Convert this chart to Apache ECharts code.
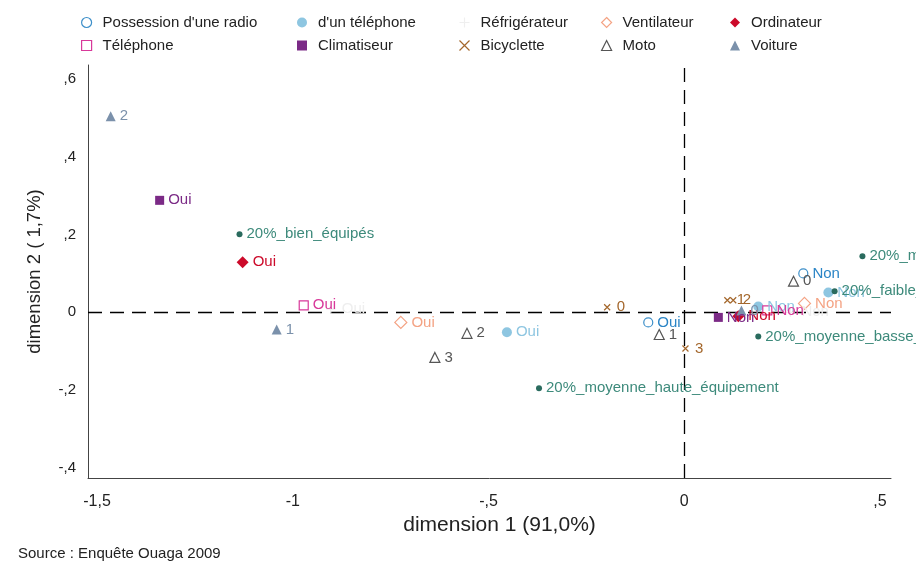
<!DOCTYPE html>
<html>
<head>
<meta charset="utf-8">
<script src="https://cdn.jsdelivr.net/npm/echarts@6/dist/echarts.min.js"></script>
<style>
  html, body { margin: 0; padding: 0; background: #fff; }
  #main { width: 916px; height: 562px; }
</style>
</head>
<body>
<div id="main"></div>
<script>
// données (ACM, dimensions 1 et 2)
var radioX = [-0.092, 0.304];
var radioY = [-0.026, 0.100];
var radioLab = ['Oui', 'Non'];

var telX = [-0.453, 0.189, 0.368];
var telY = [-0.051, 0.015, 0.051];
var telLab = ['Oui', 'Non', 'Non'];

var frigoX = [-0.903, 0.271];
var frigoY = [0.008, 0.0];
var frigoLab = ['Oui', 'Non'];

var ventiX = [-0.724, 0.307];
var ventiY = [-0.026, 0.023];
var ventiLab = ['Oui', 'Non'];

var ordiX = [-1.128, 0.138];
var ordiY = [0.129, -0.010];
var ordiLab = ['Oui', 'Non'];

var telephoneX = [-0.972, 0.212];
var telephoneY = [0.018, 0.005];
var telephoneLab = ['Oui', 'Non'];

var climX = [-1.340, 0.087];
var climY = [0.288, -0.013];
var climLab = ['Oui', 'Non'];

var veloX = [-0.197, 0.110, 0.125, 0.003];
var veloY = [0.013, 0.031, 0.031, -0.093];
var veloLab = ['0', '1', '2', '3'];

var motoX = [0.279, -0.064, -0.555, -0.637];
var motoY = [0.080, -0.057, -0.054, -0.116];
var motoLab = ['0', '1', '2', '3'];

var voitX = [0.146, -1.041, -1.465];
var voitY = [0.005, -0.044, 0.504];
var voitLab = ['0', '1', '2'];

var groupeX = [-1.136, -0.371, 0.189, 0.384, 0.455];
var groupeY = [0.201, -0.195, -0.062, 0.054, 0.144];
var groupeLab = ['20%_bien_équipés', '20%_moyenne_haute_équipement', '20%_moyenne_basse_équipement', '20%_faible_équipement', '20%_moins_équipés'];

var xTicks = [-1.5, -1, -0.5, 0, 0.5];
var xTickLabels = ['-1,5', '-1', '-,5', '0', ',5'];
var yTicks = [-0.4, -0.2, 0, 0.2, 0.4, 0.6];
var yTickLabels = ['-,4', '-,2', '0', ',2', ',4', ',6'];

var FONT = '"Liberation Sans", Arial, Helvetica, sans-serif';
var crossPath = 'path://M0,0L10,10M10,0L0,10';
var plusPath = 'path://M5,0L5,10M0,5L10,5';

function pts(xs, ys, labs) {
    var out = [];
    for (var i = 0; i < xs.length; i++) out.push({ value: [xs[i], ys[i]], name: labs[i] });
    return out;
}

function tickFmt(ticks, labels) {
    return function (v) {
        for (var i = 0; i < ticks.length; i++) {
            if (Math.abs(ticks[i] - v) < 1e-6) return labels[i];
        }
        return '';
    };
}

function serie(name, xs, ys, labs, symbol, size, fill, border, labelColor) {
    return {
        name: name,
        type: 'scatter',
        symbol: symbol,
        symbolSize: size,
        data: pts(xs, ys, labs),
        itemStyle: {
            color: fill,
            borderColor: border,
            borderWidth: border ? 1.2 : 0,
            opacity: 1
        },
        label: {
            show: true,
            position: 'right',
            distance: 4,
            offset: [0, 3],
            formatter: '{b}',
            color: labelColor,
            fontFamily: FONT,
            fontSize: 15
        },
        labelLayout: { hideOverlap: false },
        emphasis: { disabled: true },
        z: 3
    };
}

var chart = echarts.init(document.getElementById('main'));

var series = [
    serie("Possession d'une radio", radioX, radioY, radioLab, 'circle', 9, '#fff', '#3d8fc9', '#2b85c6'),
    serie("d'un téléphone", telX, telY, telLab, 'circle', 10, '#8ec6e1', null, '#8ec6e1'),
    serie('Réfrigérateur', frigoX, frigoY, frigoLab, plusPath, 9, 'none', '#efefef', '#eeeeee'),
    serie('Ventilateur', ventiX, ventiY, ventiLab, 'diamond', 12, '#fff', '#f4a384', '#f4a384'),
    serie('Ordinateur', ordiX, ordiY, ordiLab, 'diamond', 12, '#cc0a2a', null, '#cc0a2a'),
    serie('Téléphone', telephoneX, telephoneY, telephoneLab, 'rect', 9, '#fff', '#d8399a', '#d8399a'),
    serie('Climatiseur', climX, climY, climLab, 'rect', 9, '#7b2a86', null, '#7b2a86'),
    serie('Bicyclette', veloX, veloY, veloLab, crossPath, 6, 'none', '#a4672c', '#a4672c'),
    serie('Moto', motoX, motoY, motoLab, 'triangle', 10, '#fff', '#555555', '#555555'),
    serie('Voiture', voitX, voitY, voitLab, 'triangle', 10, '#7b91ab', null, '#7b91ab'),
    serie('groupes', groupeX, groupeY, groupeLab, 'circle', 6, '#2a6b5e', null, '#3d8a7b')
];

// lignes pointillées en 0
series[0].markLine = {
    silent: true,
    symbol: 'none',
    label: { show: false },
    lineStyle: { color: '#000', type: [14, 8], width: 1.3 },
    data: [{ xAxis: 0 }, { yAxis: 0 }],
    z: 1
};

// une légende par colonne, pour caler les positions
function colLegend(names, center) {
    var items = names.map(function (n) {
        var s = series.filter(function (x) { return x.name === n; })[0];
        return {
            name: n,
            itemStyle: {
                color: s.itemStyle.color,
                borderColor: s.itemStyle.borderColor || s.itemStyle.color,
                borderWidth: s.itemStyle.borderColor ? 1.2 : 0
            }
        };
    });
    return {
        orient: 'vertical',
        left: center - 5,
        top: 15,
        padding: 0,
        itemWidth: 10,
        itemHeight: 10,
        itemGap: 8,
        data: items,
        selectedMode: false,
        textStyle: { fontFamily: FONT, fontSize: 15, color: '#222', padding: [0, 0, 0, 6] }
    };
}

var option = {
    animation: false,
    backgroundColor: '#fff',
    legend: [
        colLegend(["Possession d'une radio", 'Téléphone'], 86),
        colLegend(["d'un téléphone", 'Climatiseur'], 302),
        colLegend(['Réfrigérateur', 'Bicyclette'], 462),
        colLegend(['Ventilateur', 'Moto'], 606),
        colLegend(['Ordinateur', 'Voiture'], 735)
    ],
    grid: { left: 88, right: 25, top: 65, bottom: 84 },
    xAxis: {
        type: 'value',
        min: -1.523,
        max: 0.528,
        name: 'dimension 1 (91,0%)',
        nameLocation: 'middle',
        nameGap: 35,
        nameTextStyle: { fontFamily: FONT, fontSize: 21, color: '#222', padding: [0, 0, 0, 20] },
        axisLine: { onZero: false, lineStyle: { color: '#444', width: 1 } },
        axisTick: { show: false },
        splitLine: { show: false },
        axisLabel: {
            customValues: xTicks,
            formatter: tickFmt(xTicks, xTickLabels),
            fontFamily: FONT, fontSize: 16, color: '#222', margin: 16
        }
    },
    yAxis: {
        type: 'value',
        min: -0.426,
        max: 0.636,
        name: 'dimension 2 ( 1,7%)',
        nameLocation: 'middle',
        nameGap: 44,
        nameTextStyle: { fontFamily: FONT, fontSize: 18.5, color: '#222' },
        axisLine: { show: true, onZero: false, lineStyle: { color: '#444', width: 1 } },
        axisTick: { show: false },
        splitLine: { show: false },
        axisLabel: {
            customValues: yTicks,
            formatter: tickFmt(yTicks, yTickLabels),
            fontFamily: FONT, fontSize: 15, color: '#222', margin: 12
        }
    },
    graphic: [{
        type: 'text',
        left: 18,
        top: 546,
        style: { text: 'Source : Enquête Ouaga 2009', font: '15px ' + FONT, fill: '#222' }
    }],
    series: series
};

chart.setOption(option);
</script>
</body>
</html>
